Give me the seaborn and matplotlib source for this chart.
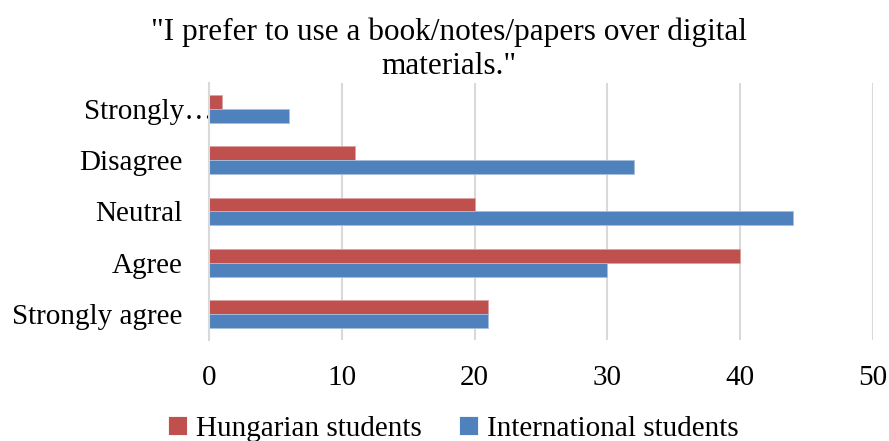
import matplotlib
matplotlib.use("Agg")
import matplotlib.pyplot as plt
import matplotlib.transforms as mtransforms
import pandas as pd
import seaborn as sns

categories = ["Strongly…", "Disagree", "Neutral", "Agree", "Strongly agree"]
hungarian = [1, 11, 20, 40, 21]
international = [6, 32, 44, 30, 21]
series_names = ["Hungarian students", "International students"]
x_ticks = [0, 10, 20, 30, 40, 50]

title = "\"I prefer to use a book/notes/papers over digital\nmaterials.\""
colors = ["#C0504D", "#4F81BD"]


def main():
    sns.set_theme(style="white")
    plt.rcParams["font.family"] = ["Liberation Serif", "DejaVu Serif"]
    plt.rcParams["text.color"] = "black"
    plt.rcParams["xtick.color"] = "black"
    plt.rcParams["ytick.color"] = "black"

    df = pd.DataFrame({
        "category": categories * 2,
        "value": hungarian + international,
        "series": [series_names[0]] * len(categories) + [series_names[1]] * len(categories),
    })

    fig = plt.figure(figsize=(8.89, 4.41), dpi=100)
    ax = fig.add_axes([0.235, 0.229, 0.747, 0.583])

    sns.barplot(data=df, x="value", y="category", hue="series", order=categories,
                hue_order=series_names, palette=colors, orient="h", width=0.54,
                saturation=1, linewidth=0.6, ax=ax, legend=True)
    for bar_container, c in zip(ax.containers, ["#D9A3A1", "#A7C0DE"]):
        for patch in bar_container:
            patch.set_edgecolor(c)

    ax.set_xlim(0, 50)
    ax.set_xticks(x_ticks)
    ax.set_xlabel("")
    ax.set_ylabel("")
    ax.xaxis.grid(True, color="#D9D9D9", linewidth=1.5)
    ax.yaxis.grid(False)
    ax.set_axisbelow(True)
    for side in ["top", "right", "bottom"]:
        ax.spines[side].set_visible(False)
    ax.spines["left"].set_color("#D9D9D9")
    ax.spines["left"].set_linewidth(1.5)
    ax.tick_params(axis="x", length=0, pad=18, labelsize=21, labelcolor="black")
    ax.tick_params(axis="y", length=0, pad=19, labelsize=21, labelcolor="black")

    # the truncated label sits closer to the axis
    lab = ax.get_yticklabels()[0]
    lab.set_transform(lab.get_transform() + mtransforms.ScaledTranslation(22 / 72, 0, fig.dpi_scale_trans))

    handles, labels = ax.get_legend_handles_labels()
    ax.get_legend().remove()
    fig.legend(handles, labels, loc="center", bbox_to_anchor=(0.51, 0.028), ncol=2,
               frameon=False, fontsize=21, handlelength=0.65, handleheight=0.65,
               handletextpad=0.3, columnspacing=1.3)

    fig.text(0.505, 0.888, title, ha="center", va="center", fontsize=22.5, linespacing=1.25)

    fig.savefig("out.png", dpi=100)


if __name__ == "__main__":
    main()
